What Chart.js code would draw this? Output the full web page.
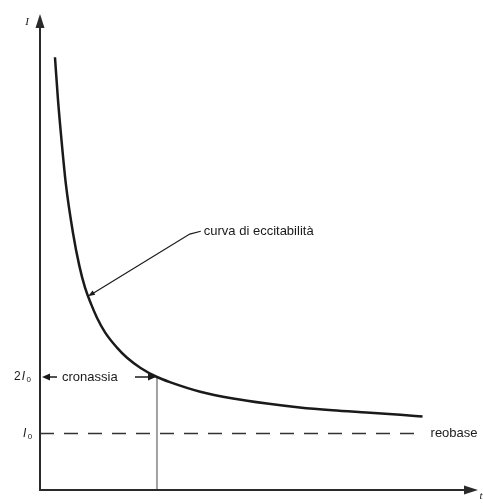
<!DOCTYPE html>
<html>
<head>
<meta charset="utf-8">
<script src="https://cdn.jsdelivr.net/npm/chart.js@4/dist/chart.umd.min.js"></script>
<style>
  html, body { margin: 0; padding: 0; background: #ffffff; }
  canvas { display: block; }
</style>
</head>
<body>
<canvas id="c" width="483" height="503"></canvas>
<script>
// Strength–duration curve: stimulus duration t (in chronaxie units) vs current intensity I (in rheobase units)
const durations   = [0.128, 0.154, 0.188, 0.222, 0.282, 0.335, 0.385, 0.437, 0.487, 0.556, 0.658, 0.744, 0.86, 1.00, 1.11, 1.37, 1.65, 1.94, 2.22, 2.50, 2.79, 3.08, 3.27];
const intensities = [7.66, 6.90, 6.10, 5.40, 4.55, 3.98, 3.58, 3.29, 3.05, 2.79, 2.52, 2.34, 2.16, 2.00, 1.91, 1.74, 1.62, 1.53, 1.46, 1.41, 1.37, 1.33, 1.30];

const rheobase = 1;          // I0
const chronaxie = 1;         // duration at which I = 2·I0
const rheobaseEnd = 3.27;    // where the dashed rheobase line stops
const axisMaxT = 3.744;
const axisMaxI = 8.425;

// annotation anchors (data units)
const curveLabelPoint = { t: 0.41, i: 3.43 };   // point on the curve the leader line touches
const curveLabelBend  = { t: 1.28, i: 4.53 };
const curveLabelText  = { t: 1.40, i: 4.58 };

const labels = {
  curve: 'curva di eccitabilità',
  chron: 'cronassia',
  rheo: 'reobase',
  yAxis: 'I',
  xAxis: 't'
};

const curveData = durations.map((t, k) => ({ x: t, y: intensities[k] }));

const INK = '#1a1a1a';
const FONT = '"Liberation Sans", Arial, sans-serif';

function arrowHead(ctx, x, y, angle, len, half) {
  ctx.save();
  ctx.translate(x, y);
  ctx.rotate(angle);
  ctx.beginPath();
  ctx.moveTo(0, 0);
  ctx.lineTo(-len, -half);
  ctx.lineTo(-len, half);
  ctx.closePath();
  ctx.fill();
  ctx.restore();
}

const decorations = {
  id: 'decorations',
  afterDraw(chart) {
    const { ctx, chartArea: a, scales: { x, y } } = chart;
    ctx.save();
    ctx.strokeStyle = '#2a2a2a';
    ctx.fillStyle = '#2a2a2a';
    ctx.lineWidth = 2;

    // axes with arrowheads
    ctx.beginPath();
    ctx.moveTo(a.left, a.bottom);
    ctx.lineTo(a.left, a.top + 6);
    ctx.moveTo(a.left - 1, a.bottom);
    ctx.lineTo(a.right - 6, a.bottom);
    ctx.stroke();
    arrowHead(ctx, a.left, a.top, -Math.PI / 2, 14, 4.5);
    arrowHead(ctx, a.right, a.bottom, 0, 14, 4.5);

    // axis names
    ctx.fillStyle = INK;
    ctx.font = 'italic 11px "Liberation Serif", serif';
    ctx.textAlign = 'center';
    ctx.textBaseline = 'middle';
    ctx.fillText(labels.yAxis, a.left - 13, a.top + 8);
    ctx.fillText(labels.xAxis, a.right + 3, a.bottom + 6);

    // y labels: 2I0 and I0
    const y2 = y.getPixelForValue(2 * rheobase);
    const y1 = y.getPixelForValue(rheobase);
    function iLabel(prefix, py) {
      ctx.textAlign = 'left';
      ctx.textBaseline = 'middle';
      let px = prefix ? a.left - 26 : a.left - 17;
      if (prefix) {
        ctx.font = '12px ' + FONT;
        ctx.fillText(prefix, px, py);
        px += ctx.measureText(prefix).width + 1;
      }
      ctx.font = 'italic 12px ' + FONT;
      ctx.fillText('I', px, py);
      px += ctx.measureText('I').width + 1.5;
      ctx.font = '8px ' + FONT;
      ctx.fillText('0', px, py + 3);
    }
    iLabel('2', y2);
    iLabel('', y1);

    // chronaxie arrows and label
    const xc = x.getPixelForValue(chronaxie);
    ctx.fillStyle = INK;
    ctx.strokeStyle = INK;
    ctx.lineWidth = 1.5;
    ctx.beginPath();
    ctx.moveTo(a.left + 17, y2);
    ctx.lineTo(a.left + 6, y2);
    ctx.stroke();
    arrowHead(ctx, a.left + 2, y2, Math.PI, 8, 3.5);
    ctx.beginPath();
    ctx.moveTo(xc - 22, y2);
    ctx.lineTo(xc - 6, y2);
    ctx.stroke();
    arrowHead(ctx, xc - 1, y2, 0, 8, 3.5);
    ctx.font = '13px ' + FONT;
    ctx.textAlign = 'left';
    ctx.textBaseline = 'middle';
    ctx.fillText(labels.chron, a.left + 22, y2);

    // leader line to the curve label
    const p0x = x.getPixelForValue(curveLabelPoint.t), p0y = y.getPixelForValue(curveLabelPoint.i);
    const p1x = x.getPixelForValue(curveLabelBend.t), p1y = y.getPixelForValue(curveLabelBend.i);
    const tx = x.getPixelForValue(curveLabelText.t), ty = y.getPixelForValue(curveLabelText.i);
    ctx.lineWidth = 1.2;
    ctx.beginPath();
    ctx.moveTo(p0x + 4, p0y - 2.3);
    ctx.lineTo(p1x, p1y);
    ctx.lineTo(tx - 3, ty);
    ctx.stroke();
    arrowHead(ctx, p0x, p0y, Math.atan2(p0y - p1y, p0x - p1x), 7, 2.5);
    ctx.fillText(labels.curve, tx, ty);

    // rheobase label
    ctx.fillText(labels.rheo, x.getPixelForValue(rheobaseEnd) + 8, y1);
    ctx.restore();
  }
};

new Chart(document.getElementById('c'), {
  type: 'scatter',
  data: {
    datasets: [
      {
        label: 'curva',
        data: curveData,
        showLine: true,
        borderColor: INK,
        borderWidth: 2.5,
        pointRadius: 0,
        cubicInterpolationMode: 'monotone',
        fill: false
      },
      {
        label: 'reobase',
        data: [{ x: 0, y: rheobase }, { x: rheobaseEnd, y: rheobase }],
        showLine: true,
        borderColor: '#333333',
        borderWidth: 1.5,
        borderDash: [14, 10],
        pointRadius: 0
      },
      {
        label: 'cronassia',
        data: [{ x: chronaxie, y: 0 }, { x: chronaxie, y: 2 * rheobase }],
        showLine: true,
        borderColor: '#444444',
        borderWidth: 1,
        pointRadius: 0
      }
    ]
  },
  options: {
    responsive: false,
    animation: false,
    layout: { padding: { left: 40, right: 5, top: 14, bottom: 13 } },
    plugins: { legend: { display: false }, tooltip: { enabled: false } },
    scales: {
      x: { type: 'linear', min: 0, max: axisMaxT, display: false },
      y: { type: 'linear', min: 0, max: axisMaxI, display: false }
    }
  },
  plugins: [decorations]
});
</script>
</body>
</html>
